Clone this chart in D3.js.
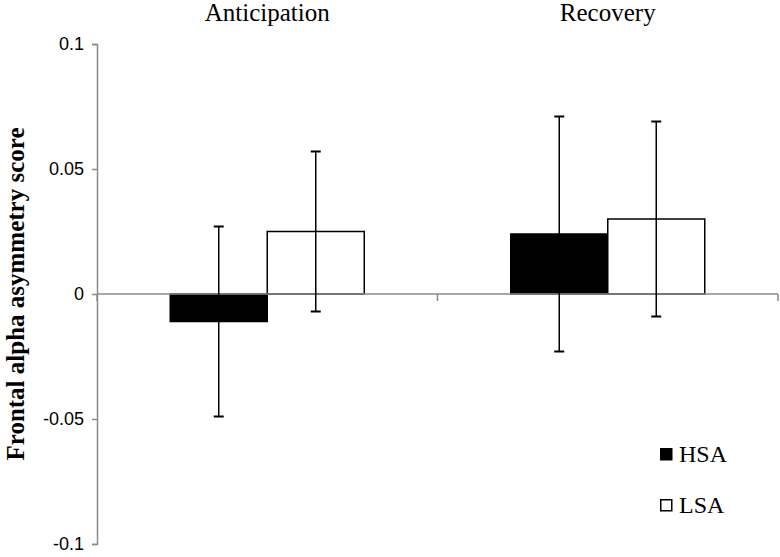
<!DOCTYPE html>
<html>
<head>
<meta charset="utf-8">
<script src="https://cdn.jsdelivr.net/npm/d3@7"></script>
<style>
  body { margin: 0; background: #fff; }
  svg { display: block; }
</style>
</head>
<body>
<div id="chart"></div>
<script>
// waarden
var categories = ["Anticipation", "Recovery"];
var groups = ["HSA", "LSA"];
var hsaValues = [-0.011, 0.024];
var lsaValues = [0.025, 0.030];
var hsaErrors = [0.038, 0.047];
var lsaErrors = [0.032, 0.039];
var yTicks = [-0.1, -0.05, 0, 0.05, 0.1];

var width = 780, height = 557;
var margin = { top: 44, right: 2, bottom: 13, left: 97 };
var axisGrey = "#8a8a8a";

var svg = d3.select("#chart").append("svg")
    .attr("width", width)
    .attr("height", height);

var x0 = d3.scaleBand()
    .domain(categories)
    .range([margin.left, width - margin.right])
    .paddingInner(0)
    .paddingOuter(0);

var x1 = d3.scaleBand()
    .domain(groups)
    .range([0, x0.bandwidth()])
    .paddingInner(0)
    .paddingOuter(0.755);

var y = d3.scaleLinear()
    .domain([-0.1, 0.1])
    .range([height - margin.bottom, margin.top]);

// rijen per balk
var bars = [];
categories.forEach(function(c, i) {
    bars.push({ cat: c, group: "HSA", value: hsaValues[i], err: hsaErrors[i] });
    bars.push({ cat: c, group: "LSA", value: lsaValues[i], err: lsaErrors[i] });
});

function fillFor(g) { return g === "HSA" ? "#000" : "#fff"; }

svg.selectAll("rect.bar")
    .data(bars)
    .enter()
    .append("rect")
    .attr("class", "bar")
    .attr("x", function(d) { return x0(d.cat) + x1(d.group); })
    .attr("y", function(d) { return y(Math.max(0, d.value)); })
    .attr("width", x1.bandwidth())
    .attr("height", function(d) { return Math.abs(y(d.value) - y(0)); })
    .attr("fill", function(d) { return fillFor(d.group); })
    .attr("stroke", "#000")
    .attr("stroke-width", 1.5);

// y-as
var yAxis = svg.append("g")
    .attr("transform", "translate(" + margin.left + ",0)")
    .call(d3.axisLeft(y).tickValues(yTicks).tickSize(5).tickPadding(8)
        .tickFormat(function(d) { return d === 0 ? "0" : String(d); }));
yAxis.selectAll("path, line").attr("stroke", axisGrey).attr("stroke-width", 1.5);
yAxis.selectAll("text")
    .attr("font-family", "Liberation Sans, Arial, sans-serif")
    .attr("font-size", 18)
    .attr("fill", "#000");

// x-as op nul, tikjes op de grenzen van de categorieën
var xEdges = [margin.left, x0("Recovery"), width - margin.right];
svg.append("line")
    .attr("x1", margin.left)
    .attr("x2", width - margin.right)
    .attr("y1", y(0))
    .attr("y2", y(0))
    .attr("stroke", axisGrey)
    .attr("stroke-width", 1.5);
svg.selectAll("line.xtick")
    .data(xEdges)
    .enter()
    .append("line")
    .attr("class", "xtick")
    .attr("x1", function(d) { return d; })
    .attr("x2", function(d) { return d; })
    .attr("y1", y(0))
    .attr("y2", y(0) + 7)
    .attr("stroke", axisGrey)
    .attr("stroke-width", 1.5);

// foutbalken
var capW = 10;
var errG = svg.selectAll("g.err")
    .data(bars)
    .enter()
    .append("g")
    .attr("class", "err")
    .attr("transform", function(d) { return "translate(" + (x0(d.cat) + x1(d.group) + x1.bandwidth() / 2) + ",0)"; });
errG.append("line")
    .attr("y1", function(d) { return y(d.value + d.err); })
    .attr("y2", function(d) { return y(d.value - d.err); })
    .attr("stroke", "#000")
    .attr("stroke-width", 1.5);
errG.append("line")
    .attr("x1", -capW / 2).attr("x2", capW / 2)
    .attr("y1", function(d) { return y(d.value + d.err); })
    .attr("y2", function(d) { return y(d.value + d.err); })
    .attr("stroke", "#000")
    .attr("stroke-width", 2);
errG.append("line")
    .attr("x1", -capW / 2).attr("x2", capW / 2)
    .attr("y1", function(d) { return y(d.value - d.err); })
    .attr("y2", function(d) { return y(d.value - d.err); })
    .attr("stroke", "#000")
    .attr("stroke-width", 2);

// categorie-titels boven
svg.selectAll("text.cat")
    .data(categories)
    .enter()
    .append("text")
    .attr("class", "cat")
    .attr("x", function(d) { return x0(d) + x0.bandwidth() / 2; })
    .attr("y", 21)
    .attr("text-anchor", "middle")
    .attr("font-family", "Liberation Serif, Times New Roman, serif")
    .attr("font-size", 25)
    .text(function(d) { return d; });

// y-titel
svg.append("text")
    .attr("transform", "translate(24," + y(0) + ") rotate(-90)")
    .attr("text-anchor", "middle")
    .attr("font-family", "Liberation Serif, Times New Roman, serif")
    .attr("font-weight", "bold")
    .attr("font-size", 25)
    .text("Frontal alpha asymmetry score");

// legenda
var legend = svg.selectAll("g.legend")
    .data(groups)
    .enter()
    .append("g")
    .attr("class", "legend")
    .attr("transform", function(d, i) { return "translate(660," + (448 + i * 51) + ")"; });
legend.append("rect")
    .attr("x", 0.75).attr("y", 0.75)
    .attr("width", 11).attr("height", 11)
    .attr("fill", function(d) { return fillFor(d); })
    .attr("stroke", "#000")
    .attr("stroke-width", 1.5);
legend.append("text")
    .attr("x", 19)
    .attr("y", 14)
    .attr("font-family", "Liberation Serif, Times New Roman, serif")
    .attr("font-size", 24)
    .text(function(d) { return d; });
</script>
</body>
</html>
